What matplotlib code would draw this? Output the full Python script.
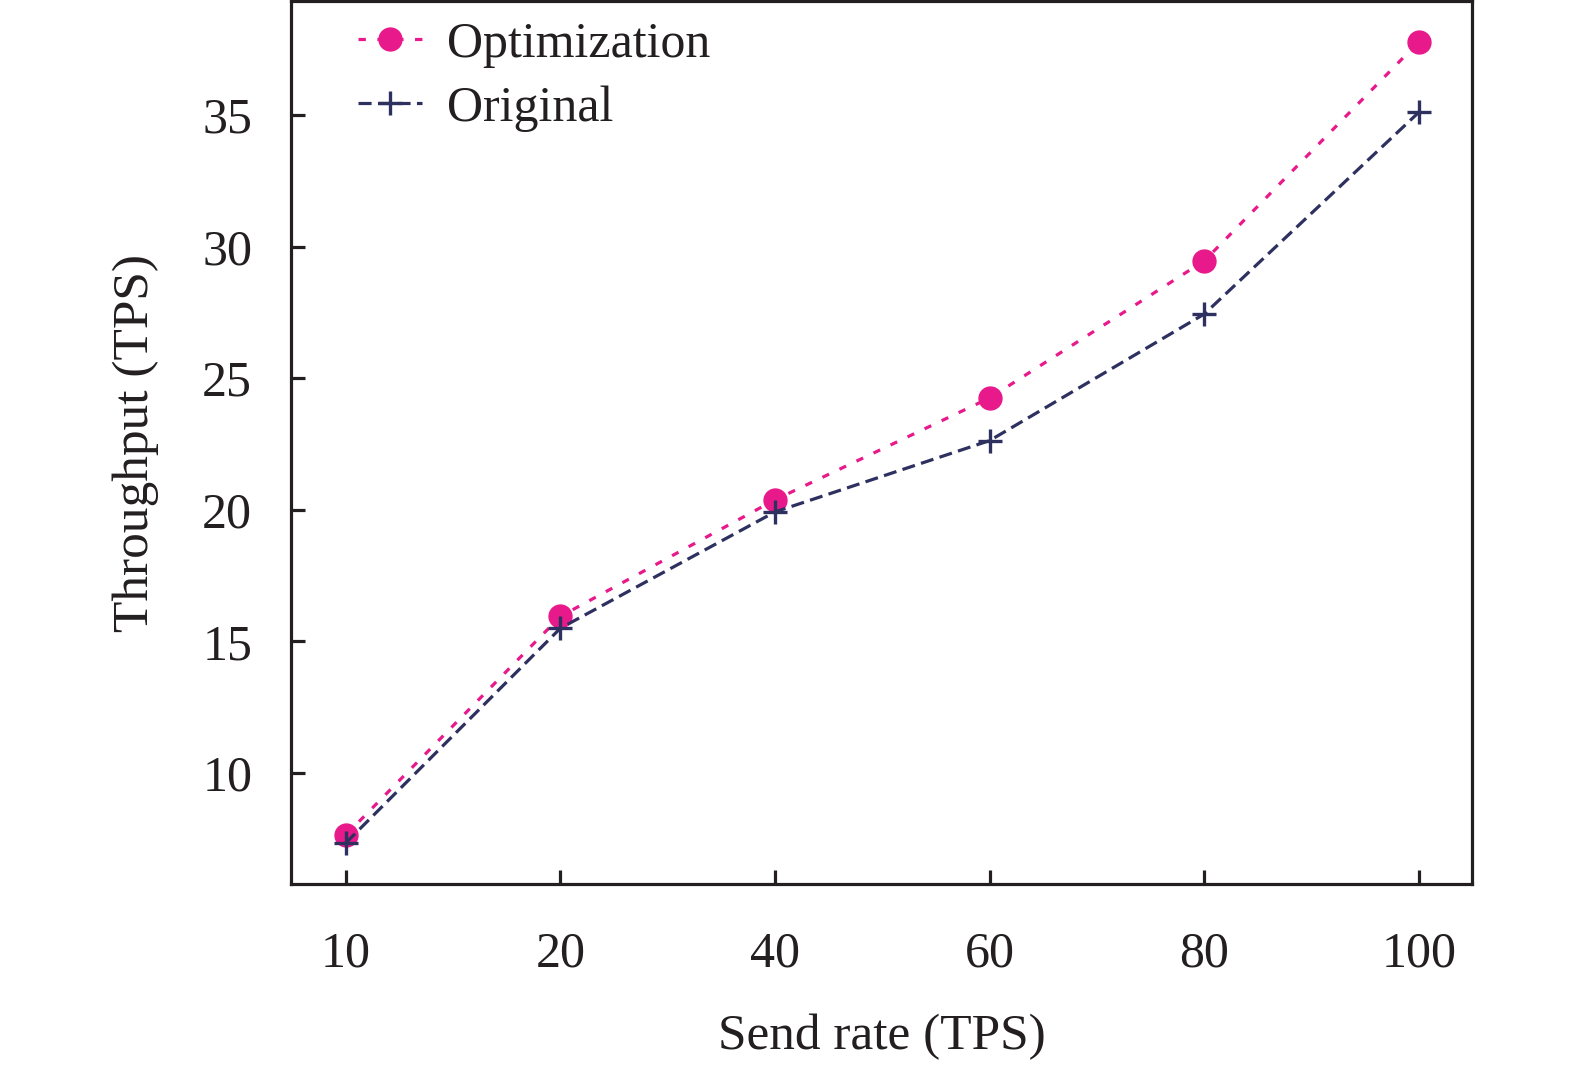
import matplotlib
matplotlib.use("Agg")
import matplotlib.pyplot as plt

categories = ["10", "20", "40", "60", "80", "100"]
optimization = [7.64, 15.95, 20.38, 24.25, 29.46, 37.79]
original = [7.34, 15.5, 19.92, 22.63, 27.44, 35.11]
yticks = [10, 15, 20, 25, 30, 35]

plt.rcParams['font.family'] = ['Liberation Serif', 'DejaVu Serif']

fig = plt.figure(figsize=(15.75, 10.67), dpi=100)
ax = fig.add_axes([0.1848, 0.1715, 0.7498, 0.8275])

x = list(range(len(categories)))
ax.plot(x, optimization, linestyle=(0, (2.3, 3.6)), color='#E8198B', linewidth=2.3,
        marker='o', markersize=16.5, label='Optimization')
ax.plot(x, original, linestyle=(0, (4.1, 2.0)), color='#2E3160', linewidth=2.3,
        marker='+', markersize=17, markeredgewidth=2.4, label='Original')

ax.set_xlim(-0.255, 5.247)
ax.set_ylim(5.78, 39.33)
ax.set_xticks(x)
ax.set_xticklabels(categories)
ax.set_yticks(yticks)

for s in ax.spines.values():
    s.set_linewidth(2.3)
    s.set_color('#231F20')

ax.tick_params(axis='both', direction='in', length=10, width=2.3, color='#231F20',
               labelsize=36, labelcolor='#231F20')
ax.tick_params(axis='x', pad=34)
ax.tick_params(axis='y', pad=28)

ax.set_xlabel('Send rate (TPS)', fontsize=37, color='#231F20', labelpad=26)
ax.set_ylabel('Throughput (TPS)', fontsize=37, color='#231F20', labelpad=31)

leg = ax.legend(loc='upper left', fontsize=36, frameon=False, handlelength=1.28,
                handletextpad=0.5, labelspacing=0.35, borderpad=0, borderaxespad=0,
                bbox_to_anchor=(0.057, 0.977))
for t in leg.get_texts():
    t.set_color('#231F20')

fig.savefig('out.png', dpi=100)
